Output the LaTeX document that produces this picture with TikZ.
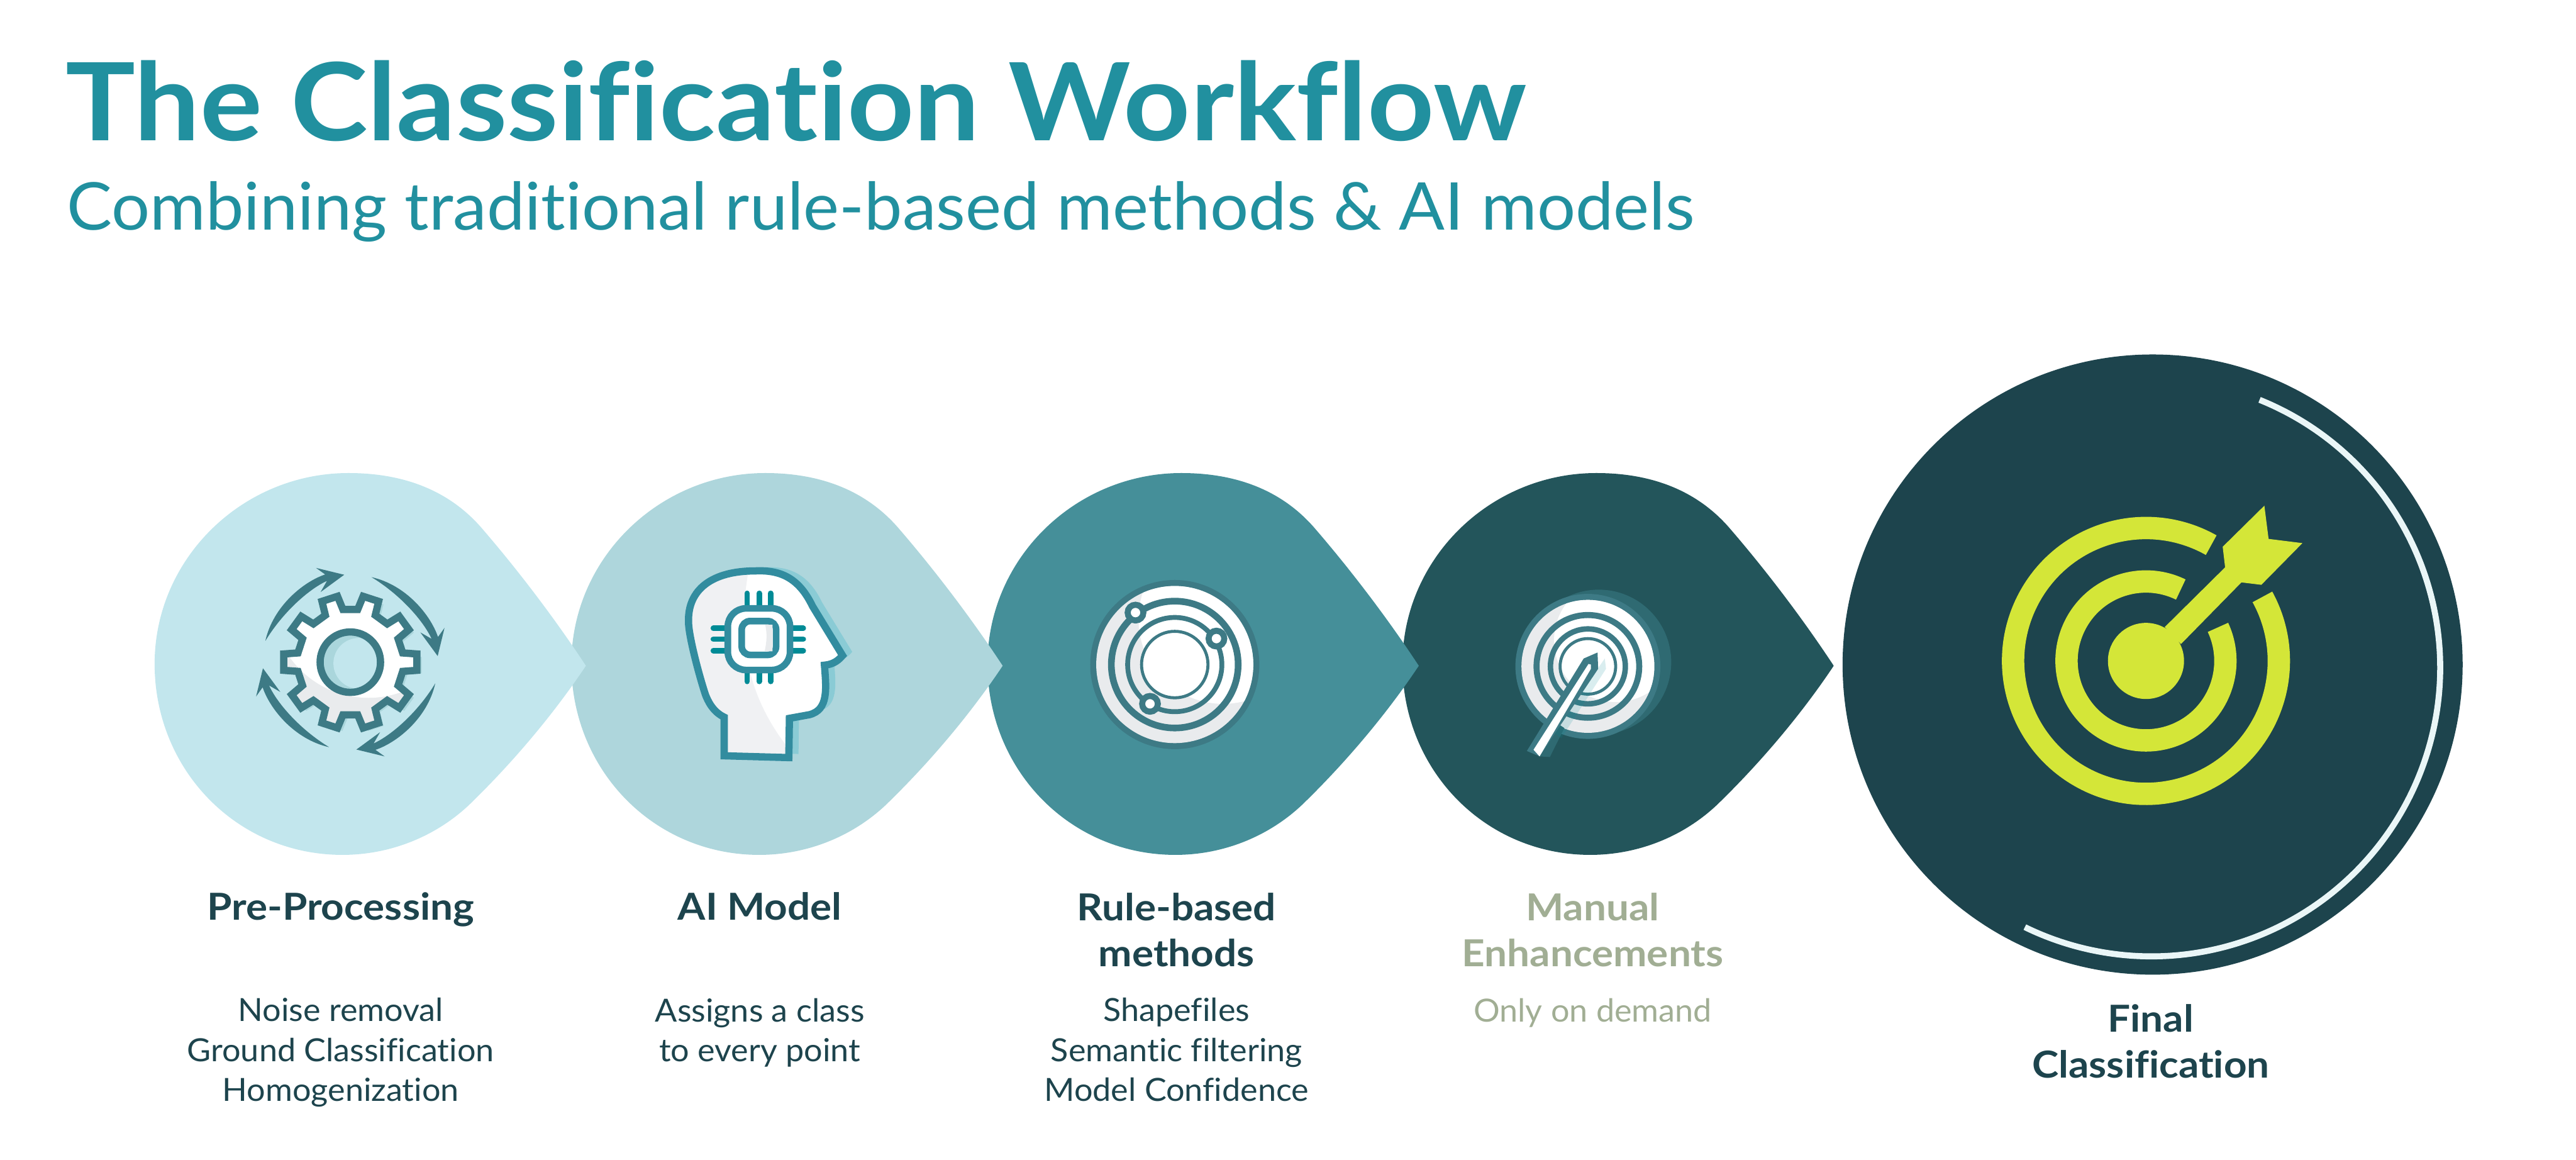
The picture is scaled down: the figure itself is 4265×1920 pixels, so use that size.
\documentclass[tikz,border=0pt]{standalone}
\usepackage{fontspec}
\setmainfont{Lato}[Ligatures=CommonOff,FakeStretch=1.03,BoldFeatures={FakeStretch=1.08}]
\definecolor{dropa}{HTML}{C2E6ED}
\definecolor{dropb}{HTML}{AED6DC}
\definecolor{dropc}{HTML}{458F99}
\definecolor{dropd}{HTML}{23555B}
\definecolor{dropfinal}{HTML}{1D444D}
\definecolor{titleteal}{HTML}{21909F}
\definecolor{sage}{HTML}{A1AE94}
\definecolor{lime}{HTML}{D4E638}
\definecolor{iconline}{HTML}{3D7A85}
\definecolor{iconhead}{HTML}{328C9F}
\definecolor{iconshadow}{HTML}{8ACBD5}
\definecolor{iconpin}{HTML}{008B96}
\definecolor{icongrey}{HTML}{E9EBED}
\definecolor{iconlight}{HTML}{AAD6DC}
\definecolor{ringglow}{HTML}{2F6A72}
\definecolor{arcwhite}{HTML}{EAF6F7}
\newcommand{\gearoutline}{(-10:88) \foreach \a in {0,36,...,324} {-- (\a-10:88) -- (\a-7:111) -- (\a+7:111) -- (\a+10:88)} -- cycle}
\newcommand{\headoutline}{(1199,1251) -- (1199,1187) .. controls (1180,1178) and (1172,1160) .. (1168,1150) .. controls (1155,1110) and (1140,1050) .. (1140,1030) .. controls (1138,975) and (1180,945) .. (1250,945) .. controls (1290,943) and (1322,955) .. (1345,1003) -- (1395,1085) .. controls (1385,1097) and (1375,1100) .. (1365,1101) .. controls (1368,1140) and (1372,1175) .. (1340,1183) -- (1307,1189) -- (1306,1254) -- cycle}
\begin{document}
\begin{tikzpicture}[x=0.01cm,y=-0.01cm,
  droplet/.pic={\path[pic actions] (5,-316) .. controls (100,-316) and (175,-285) .. (228,-222) .. controls (290,-150) and (350,-70) .. (398,3) .. controls (340,90) and (270,170) .. (205,233) .. controls (150,285) and (75,316) .. (-5,316) .. controls (-180,316) and (-316,175) .. (-316,0) .. controls (-316,-175) and (-170,-316) .. (5,-316) -- cycle;},
  titletext/.style={inner sep=0pt,anchor=base west,text=titleteal},
  headtext/.style={inner sep=0pt,anchor=base,align=center,text=dropfinal,font=\fontsize{17.5}{21.6}\selectfont\bfseries},
  bodytext/.style={inner sep=0pt,anchor=base,align=center,text=dropfinal,font=\fontsize{15}{18.8}\selectfont}]
  \useasboundingbox (0,0) rectangle (4265,1920);

  \node[titletext,font=\fontsize{50.8}{60}\selectfont\bfseries] (maintitle) at (108,233) {The Classification Workflow};
  \node[titletext,font=\fontsize{31}{38}\selectfont] (subtitle) at (110,381) {Combining traditional rule-based methods \& AI models};

  % right one first, each tip lies over the next drop
  \pic[fill=dropd] at (2638,1099) {droplet};
  \pic[fill=dropc] at (1951,1099) {droplet};
  \pic[fill=dropb] at (1262,1099) {droplet};
  \pic[fill=dropa] at (572,1099) {droplet};

  % gear
  \begin{scope}[shift={(580,1096)}]
    \fill[iconlight,shift={(8,5)}] \gearoutline;
    \fill[white] \gearoutline;
    \begin{scope}
      \clip \gearoutline;
      \fill[icongrey] (-130,-130) rectangle (130,130);
      \fill[white] (30,-101) circle (160);
    \end{scope}
    \draw[iconline,line width=0.12cm,line join=miter] \gearoutline;
    \fill[iconlight] (0,0) circle (50);
    \fill[dropa] (14,2) circle (42);
    \draw[iconline,line width=0.12cm] (0,0) circle (50);
    \foreach \a in {-90,0,90,180}
      \fill[iconline] (\a+14:145) .. controls (\a+36:158) and (\a+60:154) .. (\a+74:151) -- (\a+70:166) -- (\a+86:145) -- (\a+67:126) -- (\a+74:140) .. controls (\a+60:139) and (\a+36:139) .. cycle;
  \end{scope}

  % head with chip
  \fill[iconshadow,shift={(16,-6)}] \headoutline;
  \fill[white] \headoutline;
  \begin{scope}
    \clip \headoutline;
    \fill[icongrey!70!white] (1120,930) -- (1242,930) .. controls (1220,1040) and (1230,1140) .. (1301,1233) -- (1320,1270) -- (1120,1270) -- cycle;
  \end{scope}
  \draw[iconhead,line width=0.12cm,line join=miter] \headoutline;
  \foreach \x in {1237,1257,1276} {
    \draw[iconpin,line width=0.09cm,line cap=round] (\x,982) -- (\x,1005);
    \draw[iconpin,line width=0.09cm,line cap=round] (\x,1109) -- (\x,1128);
  }
  \foreach \y in {1040,1058,1077} {
    \draw[iconpin,line width=0.09cm,line cap=round] (1181,\y) -- (1203,\y);
    \draw[iconpin,line width=0.09cm,line cap=round] (1310,\y) -- (1330,\y);
  }
  \draw[iconhead,fill=white,line width=0.11cm,rounded corners=0.3cm] (1205,1007) rectangle (1308,1109);
  \draw[iconhead,fill=white,line width=0.11cm,rounded corners=0.14cm] (1228,1028) rectangle (1285,1084);
  \fill[icongrey] (1267,1034) -- (1279,1034) -- (1279,1078) -- (1266,1078) .. controls (1270,1060) and (1270,1048) .. (1267,1034) -- cycle;

  % rings with three small nodes
  \fill[iconline] (1945,1100) circle (140);
  \fill[icongrey] (1945,1100) circle (130);
  \begin{scope}
    \clip (1945,1100) circle (130);
    \fill[white] (2025,1025) circle (140);
  \end{scope}
  \draw[iconline,line width=0.11cm] (1945,1100) circle (105);
  \draw[iconline,line width=0.08cm] (1945,1100) circle (78);
  \draw[iconline,line width=0.05cm,fill=white] (1945,1100) circle (55);
  \foreach \x/\y in {1880/1014,2014/1057,1904/1165}
    \draw[iconline,fill=white,line width=0.1cm] (\x,\y) circle (13);

  % disc with pencil
  \fill[ringglow] (2647,1096) circle (120);
  \fill[iconline] (2629,1103) circle (120);
  \fill[icongrey] (2629,1103) circle (110);
  \begin{scope}
    \clip (2629,1103) circle (110);
    \fill[white] (2675,1060) circle (102);
  \end{scope}
  \draw[iconline,line width=0.1cm] (2629,1103) circle (85);
  \draw[iconline,line width=0.09cm] (2629,1103) circle (62);
  \draw[iconline,line width=0.05cm] (2629,1103) circle (46);
  \fill[ringglow] (2549,1252) -- (2566,1253) -- (2590,1205) -- (2575,1195) -- cycle;
  \fill[iconpin,opacity=0.15] (2657,1090) -- (2659,1107) -- (2585,1222) -- (2572,1212) -- cycle;
  \fill[iconline] (2528,1243) -- (2622,1090) -- (2645,1080) -- (2646,1107) -- (2549,1252) -- cycle;
  \fill[white] (2539,1241) -- (2630,1099) -- (2634,1100) -- (2634,1107) -- (2549,1252) -- cycle;

  % final target
  \node[circle,fill=dropfinal,minimum size=10.26cm,inner sep=0pt] (finalcircle) at (3564,1100) {};
  \draw[arcwhite,line width=0.1cm] ([shift={(3562,1105)}]-68:478) arc[start angle=-68,end angle=116,radius=478];
  \fill[lime] (3553,1094) circle (63);
  \draw[lime,line width=0.37cm] ([shift={(3553,1094)}]-60.6:220) arc[start angle=-60.6,end angle=-388.8,radius=220];
  \draw[lime,line width=0.37cm] ([shift={(3553,1094)}]-64:131.5) arc[start angle=-64,end angle=-385,radius=131.5];
  \fill[lime] (3584,1038) -- (3684,939) -- (3680,905) -- (3749,837) -- (3756,892) -- (3812,899) -- (3744,968) -- (3711,964) -- (3611,1066) -- cycle;

  % labels, a node's base is its last line
  \node[headtext] (prehead) at (564,1523) {Pre-Processing};
  \node[bodytext] (pretext) at ([yshift=-3cm]prehead.base) {Noise removal\\Ground Classification\\Homogenization};
  \node[headtext] (aihead) at (1258,1523) {AI Model};
  \node[bodytext] (aitext) at ([yshift=-2.34cm]aihead.base) {Assigns a class\\to every point};
  \node[headtext] (rulehead) at (1948,1600) {Rule-based\\methods};
  \node[bodytext] (ruletext) at ([yshift=-2.23cm]rulehead.base) {Shapefiles\\Semantic filtering\\Model Confidence};
  \node[headtext,text=sage] (manualhead) at (2637,1600) {Manual\\Enhancements};
  \node[bodytext,text=sage] (manualtext) at ([yshift=-0.91cm]manualhead.base) {Only on demand};
  \node[headtext] (finalhead) at (3561,1784) {Final\\Classification};
\end{tikzpicture}
\end{document}
